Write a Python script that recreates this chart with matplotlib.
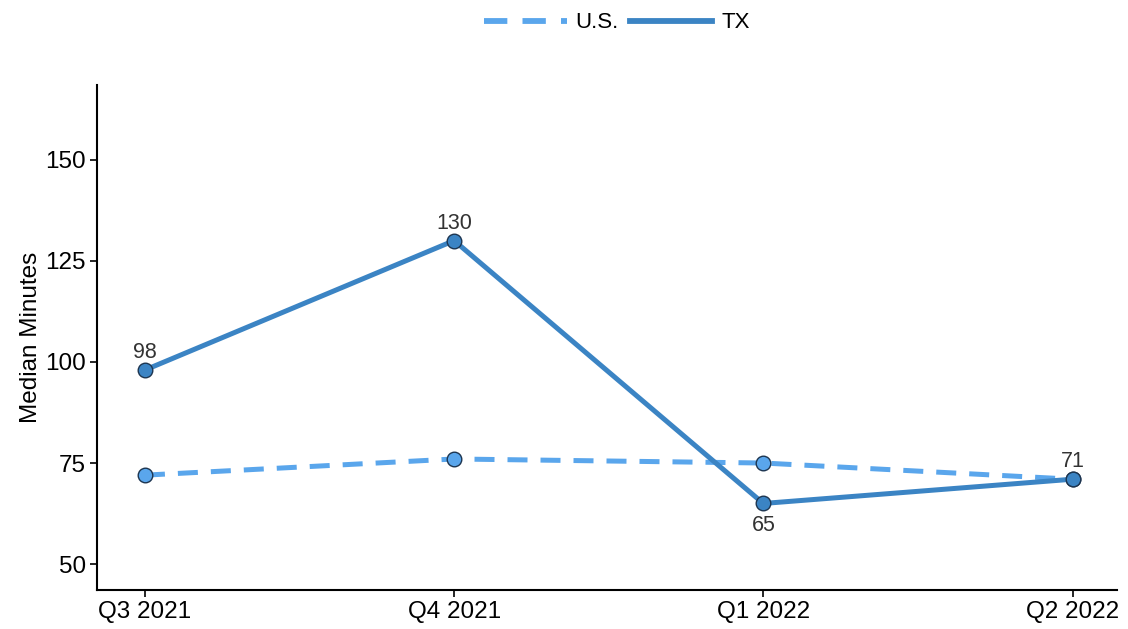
import matplotlib
matplotlib.use("Agg")
import matplotlib.pyplot as plt

plt.rcParams['font.family'] = ['Liberation Sans', 'DejaVu Sans']

quarters = ["Q3 2021", "Q4 2021", "Q1 2022", "Q2 2022"]
us_values = [72, 76, 75, 71]
tx_values = [98, 130, 65, 71]
tx_label_pos = ["above", "above", "below", "above"]
y_ticks = [50, 75, 100, 125, 150]

us_color = "#5aa6ec"
tx_color = "#3b84c4"
edge_color = "#1d3550"

fig = plt.figure(figsize=(11.28, 6.29), dpi=100)
ax = fig.add_axes([0.086, 0.062, 0.904, 0.803])

dash = (0, (4.0, 2.6))
x = list(range(len(quarters)))
ax.plot(x, us_values, color=us_color, lw=3.6, ls=dash,
        marker="o", ms=10.5, mfc=us_color, mec=edge_color, mew=1.0,
        label="U.S.", zorder=2)
ax.plot(x, tx_values, color=tx_color, lw=3.6, ls="-",
        marker="o", ms=10.5, mfc=tx_color, mec=edge_color, mew=1.0,
        label="TX", zorder=3)

for xi, v, pos in zip(x, tx_values, tx_label_pos):
    off = 5 if pos == "above" else -8
    ax.annotate(str(v), (xi, v), xytext=(0, off), textcoords="offset points",
                ha="center", va="bottom" if pos == "above" else "top",
                fontsize=15.5, color="#333333")

ax.set_xlim(-0.155, 3.143)
ax.set_ylim(43.6, 168.5)
ax.set_xticks(x)
ax.set_xticklabels(quarters)
ax.set_yticks(y_ticks)
ax.tick_params(axis="both", labelsize=17.5, length=5, width=1.2, colors="black", pad=3)
ax.set_ylabel("Median Minutes", fontsize=17.5, labelpad=2)
for s in ["top", "right"]:
    ax.spines[s].set_visible(False)
for s in ["left", "bottom"]:
    ax.spines[s].set_linewidth(1.5)

h_us = plt.Line2D([], [], color=us_color, lw=4.2, ls=(0, (4.0, 2.6)))
h_tx = plt.Line2D([], [], color=tx_color, lw=4.2)
fig.legend([h_us, h_tx], ["U.S.", "TX"], loc="upper center",
           bbox_to_anchor=(0.547, 1.012), ncol=2, frameon=False,
           fontsize=16, handlelength=3.7, columnspacing=0.5, handletextpad=0.4)

fig.savefig("out.png", dpi=100)
